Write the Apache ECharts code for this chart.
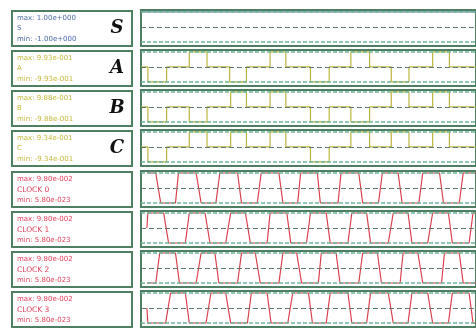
<!DOCTYPE html>
<html>
<head>
<meta charset="utf-8">
<script src="https://cdn.jsdelivr.net/npm/echarts@6/dist/echarts.min.js"></script>
<style>
  html, body { margin: 0; padding: 0; background: #fff; }
  #chart { width: 476px; height: 332px; }
</style>
</head>
<body>
<div id="chart"></div>
<script>
// channel labels
const names = ['S', 'A', 'B', 'C', 'CLOCK 0', 'CLOCK 1', 'CLOCK 2', 'CLOCK 3'];
const bigLetters = ['S', 'A', 'B', 'C', '', '', '', ''];
const maxLabels = ['max: 1.00e+000', 'max: 9.93e-001', 'max: 9.88e-001', 'max: 9.34e-001',
  'max: 9.80e-002', 'max: 9.80e-002', 'max: 9.80e-002', 'max: 9.80e-002'];
const minLabels = ['min: -1.00e+000', 'min: -9.93e-001', 'min: -9.88e-001', 'min: -9.34e-001',
  'min: 5.80e-023', 'min: 5.80e-023', 'min: 5.80e-023', 'min: 5.80e-023'];

// step signals: time of each change and the level that starts there
const sTimes = [0, 340];
const sLevels = [1, 1];
const aTimes = [0, 7, 26, 49, 67, 90, 107, 131, 147, 172, 191, 213, 232, 254, 272, 296, 313, 340];
const aLevels = [0, -1, 0, 1, 0, -1, 0, 1, 0, -1, 0, 1, 0, -1, 0, 1, 0, 0];
const bTimes = [0, 7, 26, 49, 67, 91, 107, 131, 147, 172, 191, 213, 232, 254, 272, 296, 313, 340];
const bLevels = [0, -1, 0, -1, 0, 1, 0, 1, 0, -1, 0, -1, 0, 1, 0, 1, 0, 0];
const cTimes = [0, 7, 26, 49, 67, 91, 107, 131, 147, 172, 191, 213, 232, 254, 272, 296, 313, 340];
const cLevels = [0, -1, 0, 1, 0, 1, 0, 1, 0, -1, 0, 1, 0, 1, 0, 1, 0, 0];

// clocks: corner points of the trapezoid waves (normalised 0..1)
const clk0Times = [6, 15, 20, 35, 38, 56, 61, 76, 80, 98, 102, 118, 122, 140, 144, 159, 162, 179, 182,
  200, 203, 221, 225, 241, 245, 261, 265, 282, 286, 303, 307, 323, 327, 340];
const clk0Levels = [1, 1, 0, 0, 1, 1, 0, 0, 1, 1, 0, 0, 1, 1, 0, 0, 1, 1, 0,
  0, 1, 1, 0, 0, 1, 1, 0, 0, 1, 1, 0, 0, 1, 1];
const clk1Times = [6, 7, 23, 28, 45, 49, 65, 70, 86, 91, 106, 111, 128, 131, 148, 152, 168, 172, 188,
  192, 210, 214, 229, 233, 251, 256, 271, 275, 291, 296, 312, 316, 333, 337, 340];
const clk1Levels = [0.5, 1, 1, 0, 0, 1, 1, 0, 0, 1, 1, 0, 0, 1, 1, 0, 0, 1, 1,
  0, 0, 1, 1, 0, 0, 1, 1, 0, 0, 1, 1, 0, 0, 1, 1];
const clk2Times = [6, 15, 19, 35, 39, 56, 61, 75, 79, 98, 102, 116, 121, 140, 144, 158, 163, 180, 183,
  198, 202, 221, 225, 240, 244, 263, 266, 281, 286, 305, 308, 323, 327, 340];
const clk2Levels = [0, 0, 1, 1, 0, 0, 1, 1, 0, 0, 1, 1, 0, 0, 1, 1, 0, 0, 1,
  1, 0, 0, 1, 1, 0, 0, 1, 1, 0, 0, 1, 1, 0, 0];
const clk3Times = [6, 7, 25, 30, 45, 49, 66, 71, 86, 91, 108, 112, 128, 132, 149, 154, 170, 174, 188,
  192, 210, 214, 229, 233, 251, 256, 271, 275, 291, 296, 312, 316, 333, 337, 340];
const clk3Levels = [0.5, 0, 0, 1, 1, 0, 0, 1, 1, 0, 0, 1, 1, 0, 0, 1, 1, 0, 0,
  1, 1, 0, 0, 1, 1, 0, 0, 1, 1, 0, 0, 1, 1, 0, 0];

const signals = [
  [sTimes, sLevels], [aTimes, aLevels], [bTimes, bLevels], [cTimes, cLevels],
  [clk0Times, clk0Levels], [clk1Times, clk1Levels], [clk2Times, clk2Levels], [clk3Times, clk3Levels],
];

const rowTops = [10, 50, 90, 130, 171, 211, 251, 291];
const rowH = 36;
const textColors = ['#4a6aa8', '#c4b83c', '#c4b83c', '#c4b83c', '#e0405a', '#e0405a', '#e0405a', '#e0405a'];
const waveColors = ['#6a86a0', '#bcb43c', '#bcb43c', '#bcb43c', '#d8404e', '#d8404e', '#d8404e', '#d8404e'];
const boxColor = '#4f7f62';

const grid = [], xAxis = [], yAxis = [], series = [], graphic = [];

signals.forEach(([times, levels], i) => {
  const isClock = i >= 4;
  grid.push({ left: 141, right: -6, top: rowTops[i], height: rowH, show: true,
    borderColor: boxColor, borderWidth: 2, backgroundColor: '#fff' });
  xAxis.push({ gridIndex: i, type: 'value', min: 0, max: 340, show: false });
  yAxis.push({ gridIndex: i, type: 'value', show: false,
    min: isClock ? -0.133 : -1.27, max: isClock ? 1.067 : 1.13 });
  const levelLines = isClock ? [0, 1] : [-1, 1];
  const midLine = isClock ? 0.5 : 0;
  series.push({
    type: 'line', xAxisIndex: i, yAxisIndex: i,
    step: isClock ? false : 'end',
    showSymbol: false, silent: true,
    lineStyle: { color: waveColors[i], width: 1.2 },
    data: times.map((t, k) => [t, levels[k]]),
    markLine: {
      silent: true, symbol: 'none', label: { show: false },
      lineStyle: { color: '#6fb59a', type: [4, 2], width: 1.5 },
      data: levelLines.map(v => ({ yAxis: v })).concat([
        { yAxis: midLine, lineStyle: { color: '#5d7a74', type: [5, 3], width: 1.2 } },
      ]),
    },
    z: 3,
  });

  // left label box
  const y = rowTops[i];
  graphic.push({ type: 'rect', shape: { x: 12, y: y + 1, width: 120, height: 35 },
    style: { fill: '#fff', stroke: boxColor, lineWidth: 2 } });
  const font = '7px "DejaVu Sans"';
  const offs = isClock ? [8, 19, 29] : [8, 18, 29];
  graphic.push({ type: 'text', x: 17, y: y + offs[0],
    style: { text: maxLabels[i], fill: textColors[i], font: font, verticalAlign: 'middle' } });
  graphic.push({ type: 'text', x: 17, y: y + offs[1],
    style: { text: names[i], fill: textColors[i], font: isClock ? '7.5px "DejaVu Sans"' : font,
      verticalAlign: 'middle' } });
  graphic.push({ type: 'text', x: 17, y: y + offs[2],
    style: { text: minLabels[i], fill: textColors[i], font: font, verticalAlign: 'middle' } });
  if (bigLetters[i]) {
    graphic.push({ type: 'text', x: 117, y: y + 18,
      style: { text: bigLetters[i], fill: '#111', align: 'center', verticalAlign: 'middle',
        font: 'italic bold 18px "DejaVu Serif"' } });
  }
});

const chart = echarts.init(document.getElementById('chart'), null, { renderer: 'canvas' });
chart.setOption({
  animation: false,
  backgroundColor: '#fff',
  grid, xAxis, yAxis, series, graphic,
});
</script>
</body>
</html>
